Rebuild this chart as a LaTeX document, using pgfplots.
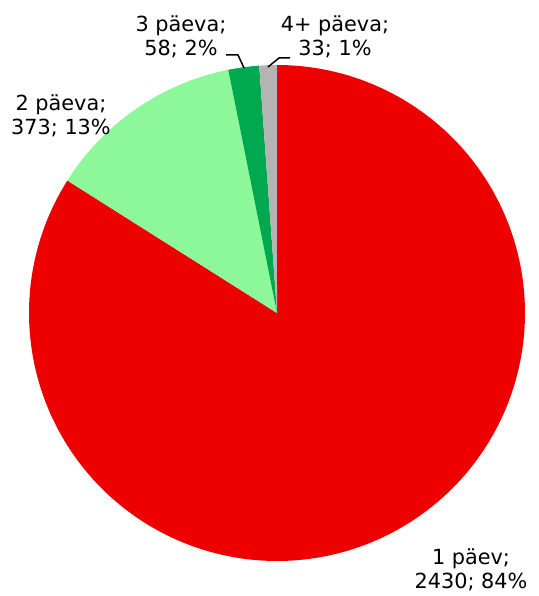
\documentclass[border=0pt]{standalone}
\usepackage{pgfplots}
\pgfplotsset{compat=1.18}
\usepackage{fontspec}
\setmainfont{DejaVu Sans}

\definecolor{cRed}{RGB}{238,0,0}
\definecolor{cLight}{RGB}{140,248,154}
\definecolor{cDark}{RGB}{0,168,80}
\definecolor{cGray}{RGB}{180,180,180}

\tikzset{lbl/.style={font=\fontsize{20.8}{23.5}\selectfont, align=center, inner sep=0pt}}

% values
\def\va{2430}
\def\vb{373}
\def\vc{58}
\def\vd{33}

\begin{document}
\begin{tikzpicture}
\pgfmathsetmacro{\tot}{\va+\vb+\vc+\vd}
\pgfmathsetmacro{\aA}{90-\va/\tot*360}
\pgfmathsetmacro{\aB}{\aA-\vb/\tot*360}
\pgfmathsetmacro{\aC}{\aB-\vc/\tot*360}
\pgfmathsetmacro{\aD}{\aC-\vd/\tot*360}
\begin{axis}[
  width=538pt, height=596pt, scale only axis,
  xmin=0, xmax=538, ymin=0, ymax=596,
  hide axis, clip=false,
]
\addplot[draw=none, forget plot] coordinates {(0,0) (538,596)};
% slices, clockwise from the top
\addplot[fill=cRed, draw=none, domain=\aA:90, samples=200, variable=\t]
  ({277+248*cos(t)}, {283+248*sin(t)}) -- (axis cs:277,283) -- cycle;
\addplot[fill=cLight, draw=none, domain=\aB:\aA, samples=60, variable=\t]
  ({277+248*cos(t)}, {283+248*sin(t)}) -- (axis cs:277,283) -- cycle;
\addplot[fill=cDark, draw=none, domain=\aC:\aB, samples=20, variable=\t]
  ({277+248*cos(t)}, {283+248*sin(t)}) -- (axis cs:277,283) -- cycle;
\addplot[fill=cGray, draw=none, domain=\aD:\aC, samples=20, variable=\t]
  ({277+248*cos(t)}, {283+248*sin(t)}) -- (axis cs:277,283) -- cycle;
% leader lines
\addplot[black, line width=1.5pt] coordinates {(226,541) (238,541) (244,528)};
\addplot[black, line width=1.5pt] coordinates {(268,529) (279,538) (290,538)};
% labels
\node[lbl] at (axis cs:471,26) {1 päev;\\2430; 84\%};
\node[lbl] at (axis cs:61,480) {2 päeva;\\373; 13\%};
\node[lbl] at (axis cs:181,559) {3 päeva;\\58; 2\%};
\node[lbl] at (axis cs:335,559) {4+ päeva;\\33; 1\%};
\end{axis}
\end{tikzpicture}
\end{document}
